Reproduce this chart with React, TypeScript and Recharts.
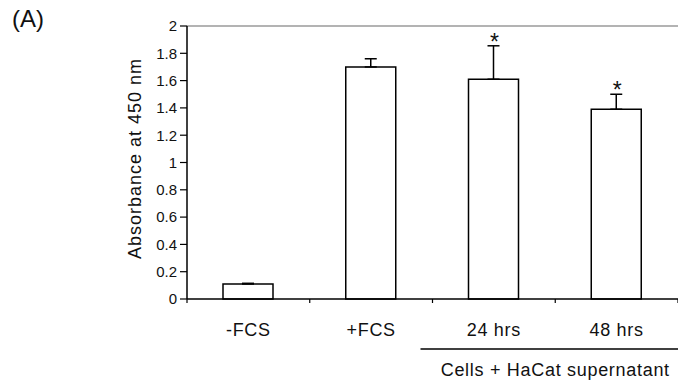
import React from 'react';
import { BarChart, Bar, XAxis, YAxis, ErrorBar, ReferenceLine, LabelList } from 'recharts';

const categories = ['-FCS', '+FCS', '24 hrs', '48 hrs'];
const means = [0.11, 1.7, 1.61, 1.39];
const errors = [0.005, 0.06, 0.245, 0.11];
const significant = [false, false, true, true];
const yTicks = [0, 0.2, 0.4, 0.6, 0.8, 1, 1.2, 1.4, 1.6, 1.8, 2];

const groupLabel = 'Cells + HaCat supernatant';
const FONT = '"Liberation Sans", Arial, sans-serif';

const data = categories.map((name, i) => ({
  name,
  value: means[i],
  err: [0, errors[i]],
  star: significant[i] ? '*' : '',
}));

const XTick = (props: any) => {
  const { x, y, payload, index } = props;
  const half = payload.offset || 0;
  const last = index === categories.length - 1;
  return (
    <g>
      <line x1={x - half} x2={x - half} y1={y} y2={y + 4} stroke="#000" strokeWidth={1.2} />
      {last && <line x1={x + half} x2={x + half} y1={y} y2={y + 4} stroke="#000" strokeWidth={1.2} />}
      <text x={x} y={y + 37} textAnchor="middle" fontSize={18} letterSpacing={0.7} fill="#111" fontFamily={FONT}>
        {payload.value}
      </text>
      {index === 2 && (
        <g>
          <line x1={x - half - 12} x2={x + 3 * half} y1={y + 50} y2={y + 50} stroke="#000" strokeWidth={1.5} />
          <text x={x + half} y={y + 77} textAnchor="middle" fontSize={18} letterSpacing={0.7} fill="#111" fontFamily={FONT}>
            {groupLabel}
          </text>
        </g>
      )}
    </g>
  );
};

const renderStar = (props: any) => {
  const { x, y, width, height, value, index } = props;
  if (!data[index].star) return null;
  const perUnit = height / value;
  const top = y - perUnit * errors[index];
  return (
    <text x={x + width / 2 + 1} y={top + 4} textAnchor="middle" fontSize={23} fill="#111" fontFamily={FONT}>
      *
    </text>
  );
};

const YTitle = (props: any) => {
  const { viewBox } = props;
  const cx = viewBox.x + 8;
  const cy = viewBox.y + viewBox.height / 2 - 4;
  return (
    <text
      x={cx}
      y={cy}
      textAnchor="middle"
      dominantBaseline="central"
      transform={`rotate(-90, ${cx}, ${cy})`}
      fontSize={18}
      letterSpacing={1}
      fill="#111"
      fontFamily={FONT}
    >
      Absorbance at 450 nm
    </text>
  );
};

export default function App() {
  return (
    <div style={{ position: 'absolute', left: 0, top: 0, width: 678, height: 386, background: '#fff' }}>
      <span
        style={{ position: 'absolute', left: 12, top: 7, fontSize: 24, lineHeight: '24px', fontFamily: FONT, color: '#111' }}
      >
        (A)
      </span>
      <BarChart width={678} height={386} data={data} margin={{ top: 26, right: 0, left: 127, bottom: 57 }}>
        <ReferenceLine y={2} stroke="#9a9a9a" strokeWidth={1.5} />
        <XAxis
          dataKey="name"
          height={30}
          tickLine={false}
          tickSize={0}
          tickMargin={0}
          axisLine={{ stroke: '#000', strokeWidth: 1.5 }}
          tick={<XTick />}
          interval={0}
        />
        <YAxis
          width={60}
          domain={[0, 2]}
          ticks={yTicks}
          tickSize={7}
          tickMargin={3}
          axisLine={{ stroke: '#000', strokeWidth: 1.5 }}
          tickLine={{ stroke: '#000', strokeWidth: 1.2 }}
          tick={{ fontSize: 15, fill: '#111', fontFamily: FONT }}
          label={<YTitle />}
        />
        <Bar dataKey="value" fill="#fff" stroke="#000" strokeWidth={1.5} barSize={50} isAnimationActive={false}>
          <ErrorBar dataKey="err" direction="y" width={6} stroke="#000" strokeWidth={1.5} />
          <LabelList dataKey="value" content={renderStar} />
        </Bar>
      </BarChart>
    </div>
  );
}
